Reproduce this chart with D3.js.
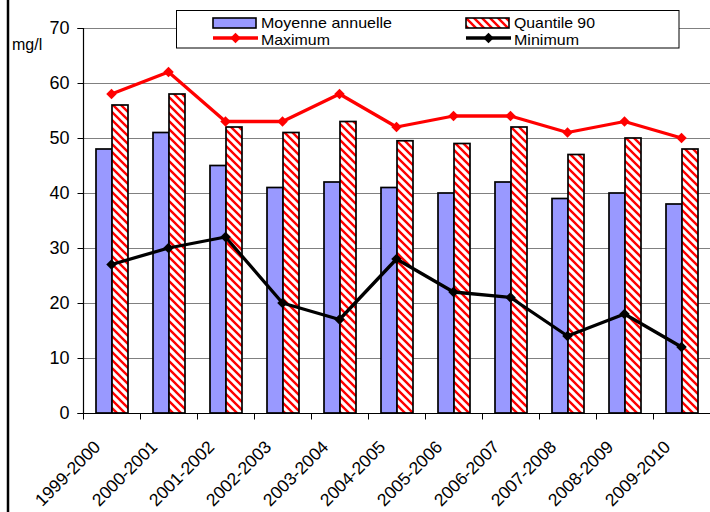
<!DOCTYPE html>
<html><head><meta charset="utf-8">
<script src="https://cdn.jsdelivr.net/npm/d3@7"></script>
<style>body{margin:0;background:#fff}svg{display:block;font-family:"Liberation Sans",Arial,sans-serif}</style>
</head><body>
<svg id="c" width="710" height="512"></svg>
<script>
const categories = ["1999-2000","2000-2001","2001-2002","2002-2003","2003-2004","2004-2005","2005-2006","2006-2007","2007-2008","2008-2009","2009-2010"];
const moyenne = [48, 51, 45, 41, 42, 41, 40, 42, 39, 40, 38];
const quantile90 = [56, 58, 52, 51, 53, 49.5, 49, 52, 47, 50, 48];
const maximum = [58, 62, 53, 53, 58, 52, 54, 54, 51, 53, 50];
const minimum = [27, 30, 32, 20, 17, 28, 22, 21, 14, 18, 12];
const yTicks = [0, 10, 20, 30, 40, 50, 60, 70];
const unitLabel = "mg/l";
const legendLabels = ["Moyenne annuelle", "Quantile 90", "Maximum", "Minimum"];

const svg = d3.select("#c");
const defs = svg.append("defs");
const pat = defs.append("pattern").attr("id","hatch").attr("patternUnits","userSpaceOnUse")
  .attr("width",8).attr("height",8);
pat.append("rect").attr("width",8).attr("height",8).attr("fill","#fff");
pat.append("path").attr("d","M-2,-2L10,10M-2,6L2,10M6,-2L10,2")
  .attr("stroke","#ff0000").attr("stroke-width",2.4);

const x = d3.scaleBand().domain(categories).range([83, 710]).padding(0);
const y = d3.scaleLinear().domain([0, 70]).range([413, 28]);
const bw = x.bandwidth();

// frame line on left
svg.append("line").attr("x1",8).attr("x2",8).attr("y1",-5).attr("y2",520)
  .attr("stroke","#000").attr("stroke-width",2.5);

// gridlines
svg.append("g").selectAll("line").data(yTicks.filter(d=>d>0)).join("line")
  .attr("x1",83).attr("x2",710).attr("y1",d=>y(d)+0.5).attr("y2",d=>y(d)+0.5)
  .attr("stroke","#808080").attr("stroke-width",1);

// bars
const g = svg.append("g");
g.selectAll(".m").data(moyenne).join("rect")
  .attr("x",(d,i)=>x(categories[i])+bw*13/57).attr("width",bw*16/57)
  .attr("y",d=>y(d)).attr("height",d=>y(0)-y(d))
  .attr("fill","#9999ff").attr("stroke","#000").attr("stroke-width",1.7);
g.selectAll(".q").data(quantile90).join("rect")
  .attr("x",(d,i)=>x(categories[i])+bw*29/57).attr("width",bw*16/57)
  .attr("y",d=>y(d)).attr("height",d=>y(0)-y(d))
  .attr("fill","url(#hatch)").attr("stroke","#000").attr("stroke-width",1.7);

// axes
const yAxis = d3.axisLeft(y).tickValues(yTicks).tickSize(6).tickPadding(8);
const ya = svg.append("g").attr("transform","translate(83.5,0)").call(yAxis);
ya.select(".domain").attr("stroke","#000").attr("stroke-width",1.2).attr("d","M-6,28.5H0V413.5H-6");
ya.selectAll(".tick line").attr("stroke","#000");
ya.selectAll("text").attr("font-size",18).attr("font-family","Liberation Sans, Arial, sans-serif").attr("fill","#000");

const xa = svg.append("g").attr("transform","translate(0,413.5)");
xa.append("line").attr("x1",83).attr("x2",710).attr("stroke","#000").attr("stroke-width",1.2);
xa.selectAll(".t").data(categories.concat(["_end"])).join("line")
  .attr("x1",(d,i)=>(i<categories.length? x(d): x.range()[1])+0.5)
  .attr("x2",(d,i)=>(i<categories.length? x(d): x.range()[1])+0.5)
  .attr("y1",0).attr("y2",6).attr("stroke","#000");
svg.append("g").selectAll("text").data(categories).join("text")
  .attr("transform",d=>`translate(${x(d)+bw/2-10},448) rotate(-45)`)
  .attr("text-anchor","end").attr("font-size",17.5).attr("fill","#000").text(d=>d);

svg.append("text").attr("x",12).attr("y",50).attr("font-size",16).text(unitLabel);

// lines
const line = d3.line().x((d,i)=>x(categories[i])+bw/2).y(d=>y(d));
const diamond = d3.symbol().type(d3.symbolDiamond2).size(70);
function series(data, color){
  svg.append("path").datum(data).attr("d",line).attr("fill","none")
    .attr("stroke",color).attr("stroke-width",3.3).attr("stroke-linejoin","round");
  svg.append("g").selectAll("path").data(data).join("path")
    .attr("d",diamond)
    .attr("transform",(d,i)=>`translate(${x(categories[i])+bw/2},${y(d)})`)
    .attr("fill",color);
}
series(maximum, "#ff0000");
series(minimum, "#000000");

// legend
const lg = svg.append("g");
lg.append("rect").attr("x",176.5).attr("y",10.5).attr("width",502.5).attr("height",37.5)
  .attr("fill","#fff").attr("stroke","#000").attr("stroke-width",1);
lg.append("rect").attr("x",213).attr("y",18).attr("width",43).attr("height",10)
  .attr("fill","#9999ff").attr("stroke","#000").attr("stroke-width",1.6);
lg.append("rect").attr("x",466).attr("y",18).attr("width",43).attr("height",10)
  .attr("fill","url(#hatch)").attr("stroke","#000").attr("stroke-width",1.6);
[[213,"#ff0000"],[466,"#000000"]].forEach(([lx,c])=>{
  lg.append("line").attr("x1",lx).attr("x2",lx+45).attr("y1",38).attr("y2",38)
    .attr("stroke",c).attr("stroke-width",3.3);
  lg.append("path").attr("d",diamond).attr("transform",`translate(${lx+22.5},38)`).attr("fill",c);
});
const lt = [[261,27.5,legendLabels[0],131],[514,27.5,legendLabels[1],81],[261,44.5,legendLabels[2],69],[514,44.5,legendLabels[3],65]];
lg.selectAll("text").data(lt).join("text").attr("x",d=>d[0]).attr("y",d=>d[1])
  .attr("font-size",15).attr("fill","#000")
  .attr("textLength",d=>d[3]).attr("lengthAdjust","spacingAndGlyphs").text(d=>d[2]);
</script>
</body></html>
